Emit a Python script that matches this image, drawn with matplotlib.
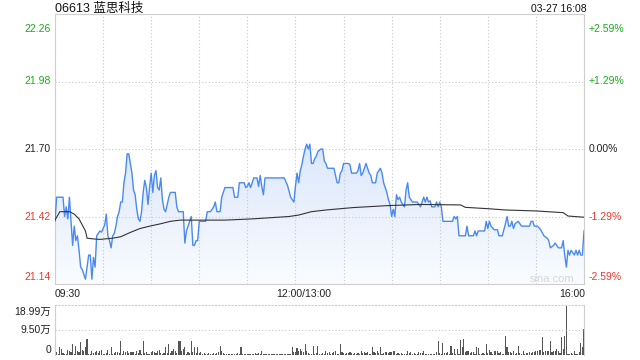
import numpy as np
import matplotlib
matplotlib.use("Agg")
import matplotlib.pyplot as plt
from matplotlib.patches import Polygon
from matplotlib.colors import to_rgba

plt.rcParams['font.family'] = ['Liberation Sans', 'Noto Sans CJK SC', 'DejaVu Sans']

title = "06613 蓝思科技"
stamp = "03-27 16:08"
prev_close = 21.70
price_ticks = [21.14, 21.42, 21.70, 21.98, 22.26]
price_labels = ["21.14", "21.42", "21.70", "21.98", "22.26"]
pct_labels = ["-2.59%", "-1.29%", "0.00%", "+1.29%", "+2.59%"]
time_pos = [0, 150, 330]
time_labels = ["09:30", "12:00/13:00", "16:00"]

# minute index (09:30 = 0, lunch break removed) and last price
price_min = [0, 1, 5, 6, 7, 8, 9, 11, 12, 13, 14, 15, 16, 17, 19, 21, 22, 23, 24, 25,
             26, 27, 28, 29, 30, 31, 32, 33, 34, 35, 36, 37, 38, 39, 40, 41, 42, 43, 44, 45,
             46, 48, 49, 50, 51, 52, 53, 54, 55, 56, 57, 58, 59, 60, 61, 62, 63, 64, 65, 66,
             67, 68, 69, 70, 71, 72, 75, 76, 77, 80, 81, 82, 83, 85, 86, 87, 88, 89, 90, 94,
             95, 97, 99, 100, 101, 103, 104, 106, 111, 112, 114, 115, 118, 119, 120, 121, 122, 124, 126, 127,
             128, 129, 130, 131, 143, 145, 147, 149, 150, 151, 152, 153, 154, 155, 156, 157, 158, 159, 160, 161,
             162, 163, 164, 166, 167, 168, 169, 170, 174, 175, 176, 177, 178, 179, 180, 183, 184, 185, 188, 189,
             190, 191, 192, 193, 194, 195, 196, 197, 198, 200, 201, 202, 203, 204, 205, 206, 207, 208, 209, 210,
             211, 212, 213, 214, 215, 216, 217, 218, 219, 220, 221, 223, 226, 227, 228, 229, 230, 231, 232, 233,
             234, 235, 237, 238, 239, 240, 241, 242, 248, 249, 250, 251, 252, 256, 257, 258, 261, 262, 263, 264,
             268, 269, 270, 271, 272, 274, 276, 277, 279, 280, 281, 282, 283, 284, 285, 286, 287, 289, 291, 296,
             297, 298, 299, 301, 303, 305, 307, 308, 309, 311, 312, 314, 316, 317, 318, 319, 320, 321, 322, 324,
             325, 326, 327, 328, 329, 330]
price_val = [21.40, 21.50, 21.50, 21.42, 21.46, 21.41, 21.50, 21.30, 21.38, 21.32, 21.34, 21.28, 21.21, 21.20, 21.16, 21.26, 21.26, 21.16, 21.25, 21.21,
             21.34, 21.35, 21.36, 21.355, 21.37, 21.385, 21.43, 21.34, 21.32, 21.29, 21.34, 21.35, 21.38, 21.42, 21.44, 21.48, 21.48, 21.56, 21.60, 21.68,
             21.68, 21.60, 21.53, 21.51, 21.45, 21.41, 21.40, 21.44, 21.52, 21.57, 21.54, 21.47, 21.54, 21.60, 21.52, 21.59, 21.61, 21.54, 21.53, 21.58,
             21.49, 21.45, 21.44, 21.47, 21.50, 21.52, 21.52, 21.46, 21.44, 21.44, 21.31, 21.36, 21.38, 21.42, 21.30, 21.30, 21.32, 21.32, 21.40, 21.40,
             21.44, 21.44, 21.46, 21.48, 21.44, 21.44, 21.50, 21.54, 21.54, 21.50, 21.50, 21.56, 21.56, 21.54, 21.545, 21.56, 21.54, 21.58, 21.58, 21.545,
             21.59, 21.545, 21.51, 21.58, 21.58, 21.55, 21.50, 21.48, 21.545, 21.60, 21.56, 21.61, 21.635, 21.67, 21.70, 21.72, 21.70, 21.72, 21.64, 21.64,
             21.66, 21.67, 21.69, 21.70, 21.70, 21.65, 21.64, 21.62, 21.62, 21.59, 21.56, 21.56, 21.60, 21.61, 21.64, 21.64, 21.635, 21.60, 21.60, 21.61,
             21.64, 21.59, 21.60, 21.62, 21.64, 21.62, 21.60, 21.59, 21.56, 21.56, 21.60, 21.61, 21.62, 21.60, 21.56, 21.54, 21.52, 21.49, 21.47, 21.42,
             21.45, 21.42, 21.51, 21.49, 21.50, 21.48, 21.47, 21.46, 21.53, 21.56, 21.50, 21.48, 21.48, 21.47, 21.46, 21.48, 21.50, 21.48, 21.50, 21.48,
             21.485, 21.46, 21.46, 21.48, 21.46, 21.48, 21.46, 21.40, 21.40, 21.42, 21.41, 21.42, 21.34, 21.34, 21.38, 21.34, 21.34, 21.36, 21.34, 21.36,
             21.36, 21.40, 21.37, 21.40, 21.38, 21.365, 21.365, 21.34, 21.34, 21.365, 21.39, 21.42, 21.38, 21.38, 21.40, 21.37, 21.39, 21.40, 21.38, 21.38,
             21.40, 21.40, 21.38, 21.38, 21.365, 21.34, 21.33, 21.32, 21.29, 21.30, 21.31, 21.29, 21.29, 21.32, 21.26, 21.21, 21.28, 21.26, 21.28, 21.26,
             21.28, 21.26, 21.28, 21.26, 21.26, 21.36]

# average price line
avg_min = [0, 3, 9, 12, 15, 17, 19, 20, 24, 28, 36, 41, 47, 53, 59, 66, 72, 78, 84, 90,
           106, 123, 146, 152, 160, 169, 186, 207, 228, 253, 256, 271, 281, 300, 317, 320, 330]
avg_val = [21.405, 21.44, 21.44, 21.43, 21.41, 21.385, 21.36, 21.33, 21.327, 21.325,
           21.33, 21.336, 21.354, 21.37, 21.38, 21.39, 21.40, 21.405, 21.405, 21.405,
           21.405, 21.41, 21.42, 21.426, 21.44, 21.447, 21.457, 21.465, 21.47, 21.468,
           21.458, 21.452, 21.447, 21.443, 21.436, 21.422, 21.417]

# volume per minute, in 万 shares
volume = [6.8, 1.0, 0.4, 3.2, 2.3, 0.6, 0.4, 0.3, 1.9, 1.7,
          1.0, 4.0, 0.4, 3.6, 1.4, 1.0, 5.1, 2.0, 1.7, 2.9,
          6.1, 0.4, 0.4, 1.7, 0.8, 1.0, 1.7, 0.8, 1.4, 1.9,
          0.4, 0.3, 0.6, 1.9, 0.4, 3.2, 0.4, 0.8, 1.0, 1.0,
          0.6, 5.5, 0.4, 1.7, 1.0, 1.4, 0.6, 1.0, 1.2, 1.0,
          0.4, 1.4, 0.8, 1.9, 0.4, 5.2, 0.6, 1.0, 0.4, 0.4,
          1.0, 1.4, 1.0, 0.6, 1.7, 1.9, 0.6, 0.4, 0.6, 3.2,
          0.6, 4.0, 0.8, 1.4, 2.3, 1.4, 0.6, 5.2, 5.2, 1.4,
          2.3, 3.2, 0.4, 1.0, 0.6, 5.5, 1.0, 3.2, 0.6, 3.2,
          0.6, 1.0, 0.4, 0.6, 0.4, 0.4, 0.6, 0.4, 0.4, 0.6,
          0.4, 0.6, 1.0, 3.6, 1.4, 0.6, 0.4, 0.3, 0.3, 0.4,
          0.2, 0.4, 0.3, 0.4, 0.6, 0.4, 3.2, 0.3, 0.4, 0.3,
          0.4, 0.3, 0.5, 0.3, 0.4, 0.6, 0.3, 0.6, 0.4, 1.7,
          0.4, 0.3, 0.4, 0.3, 0.3, 0.4, 0.3, 0.3, 0.4, 0.3,
          0.3, 0.4, 0.3, 0.3, 0.4, 0.3, 0.3, 0.4, 3.2, 1.2,
          1.0, 2.7, 1.4, 2.3, 1.7, 1.0, 4.0, 1.4, 0.6, 0.4,
          0.4, 3.6, 0.4, 0.6, 3.6, 0.4, 0.4, 0.6, 0.4, 1.7,
          0.6, 1.0, 0.4, 0.6, 1.0, 1.4, 0.4, 0.4, 4.0, 1.0,
          0.6, 0.4, 0.6, 0.8, 1.0, 0.6, 0.4, 0.6, 0.4, 0.6,
          0.4, 1.4, 0.6, 1.0, 0.6, 1.0, 0.4, 0.4, 2.9, 1.0,
          0.6, 1.7, 0.6, 3.2, 0.4, 0.6, 1.0, 1.0, 0.6, 1.0,
          1.0, 1.4, 1.4, 0.4, 0.6, 0.4, 0.6, 0.4, 0.4, 0.4,
          1.4, 0.6, 1.0, 0.4, 0.6, 0.4, 0.4, 1.0, 0.6, 0.6,
          1.4, 0.4, 0.4, 0.4, 0.4, 0.4, 0.4, 0.4, 1.0, 5.5,
          0.6, 0.4, 4.5, 0.6, 0.6, 1.0, 0.4, 3.6, 0.6, 2.3,
          0.4, 2.3, 0.4, 5.8, 3.2, 6.1, 1.0, 1.4, 1.7, 0.6,
          1.0, 1.0, 0.4, 3.2, 2.7, 0.4, 0.4, 0.6, 0.4, 4.2,
          0.6, 1.9, 1.0, 0.4, 1.7, 1.4, 1.7, 0.6, 1.0, 0.4,
          0.4, 7.2, 2.9, 1.0, 1.0, 0.6, 1.7, 0.4, 0.6, 3.6,
          0.6, 0.4, 1.7, 0.4, 0.6, 0.8, 1.0, 0.8, 1.0, 1.0,
          1.4, 1.7, 1.9, 1.9, 6.8, 1.0, 1.7, 1.4, 1.4, 5.2,
          1.0, 1.7, 1.4, 2.3, 1.4, 0.6, 7.0, 2.3, 7.4, 18.99,
          0.4, 0.4, 0.6, 0.4, 1.4, 0.4, 0.4, 1.0, 4.5, 2.9,
          10.0]
vol_ticks = [0, 9.50, 18.99]
vol_labels = ["0", "9.50万", "18.99万"]

UP, DOWN, FLAT = "#1ea81e", "#e8382e", "#222222"
GRID = "#c8c8c8"
BORDER = "#cfcfcf"


def level_color(v):
    if abs(v - prev_close) < 1e-6:
        return FLAT
    return UP if v > prev_close else DOWN


def main():
    fig = plt.figure(figsize=(6.4, 3.6), dpi=100)
    ax = fig.add_axes([55 / 640, 1 - 284 / 360, 529 / 640, 270 / 360])
    axv = fig.add_axes([55 / 640, 1 - 355 / 360, 529 / 640, 50 / 360])

    # price panel
    ax.set_xlim(0, 330)
    ax.set_ylim(price_ticks[0], price_ticks[-1])
    ax.set_xticks(range(30, 330, 30))
    ax.set_yticks(price_ticks[1:-1])
    ax.grid(True, color=GRID, linestyle=(0, (1, 2)), linewidth=0.8)
    ax.tick_params(length=0, labelleft=False, labelbottom=False)
    for s in ax.spines.values():
        s.set_color(BORDER)
        s.set_linewidth(0.8)

    # gradient fill under the price line
    verts = list(zip(price_min, price_val)) + [(price_min[-1], price_ticks[0]), (price_min[0], price_ticks[0])]
    poly = Polygon(verts, closed=True, facecolor="none", edgecolor="none")
    ax.add_patch(poly)
    top_c = np.array(to_rgba("#dbe7fb"))
    bot_c = np.array(to_rgba("#fafcff"))
    t = np.linspace(0, 1, 256)[:, None]
    grad = (top_c * (1 - t) + bot_c * t)[:, None, :]
    im = ax.imshow(grad, extent=(0, 330, price_ticks[0], max(price_val)), origin="upper",
                   aspect="auto", zorder=1, interpolation="bilinear")
    im.set_clip_path(poly)

    ax.plot(price_min, price_val, color="#4a8af0", linewidth=1.0, zorder=3)
    ax.plot(avg_min, avg_val, color="#333333", linewidth=0.8, zorder=3)

    ytr = ax.get_yaxis_transform()
    for i, (v, lab, pct) in enumerate(zip(price_ticks, price_labels, pct_labels)):
        c = level_color(v)
        if i == 0:
            va, off = "bottom", 2
        elif i == len(price_ticks) - 1:
            va, off = "top", -10
        else:
            va, off = "center", 0
        ax.annotate(lab, xy=(0, v), xycoords=ytr, xytext=(-4, off), textcoords="offset pixels",
                    ha="right", va=va, color=c, fontsize=7.5)
        ax.annotate(pct, xy=(1, v), xycoords=ytr, xytext=(5, off), textcoords="offset pixels",
                    ha="left", va=va, color=c, fontsize=7.5)

    xtr = ax.get_xaxis_transform()
    for pos, lab, ha, dx in zip(time_pos, time_labels, ["left", "center", "right"], [0, 8, 1]):
        ax.annotate(lab, xy=(pos, 0), xycoords=xtr, xytext=(dx, -10), textcoords="offset pixels",
                    ha=ha, va="center", color="#222222", fontsize=7.5)

    ax.text((552 - 55) / 529, (284 - 279) / 270, "sina.com", transform=ax.transAxes,
            ha="center", va="center", color="#d6d6d6", fontsize=8)

    fig.text(55 / 640, 1 - 9 / 360, title, ha="left", va="center", fontsize=9, color="#111111")
    fig.text(587 / 640, 1 - 9 / 360, stamp, ha="right", va="center", fontsize=7.5, color="#111111")

    # volume panel
    axv.bar(range(len(volume)), volume, width=0.7, color="#555555", linewidth=0)
    axv.set_xlim(0, 330)
    axv.set_ylim(0, vol_ticks[-1])
    axv.set_xticks([])
    axv.set_yticks([vol_ticks[1]])
    axv.grid(True, axis="y", color=GRID, linestyle=(0, (1, 2)), linewidth=0.8)
    axv.tick_params(length=0, labelleft=False)
    for name, s in axv.spines.items():
        s.set_color(BORDER)
        s.set_linewidth(0.8)
    axv.spines["top"].set_linestyle((0, (1, 2)))
    axv.spines["bottom"].set_visible(False)

    vtr = axv.get_yaxis_transform()
    for v, lab, va, off in zip(vol_ticks, vol_labels, ["bottom", "center", "top"], [0, 0, -2]):
        axv.annotate(lab, xy=(0, v), xycoords=vtr, xytext=(-4, off), textcoords="offset pixels",
                     ha="right", va=va, color="#222222", fontsize=7.5)

    fig.savefig("out.png", dpi=100, facecolor="white")
    plt.close(fig)


if __name__ == "__main__":
    main()
